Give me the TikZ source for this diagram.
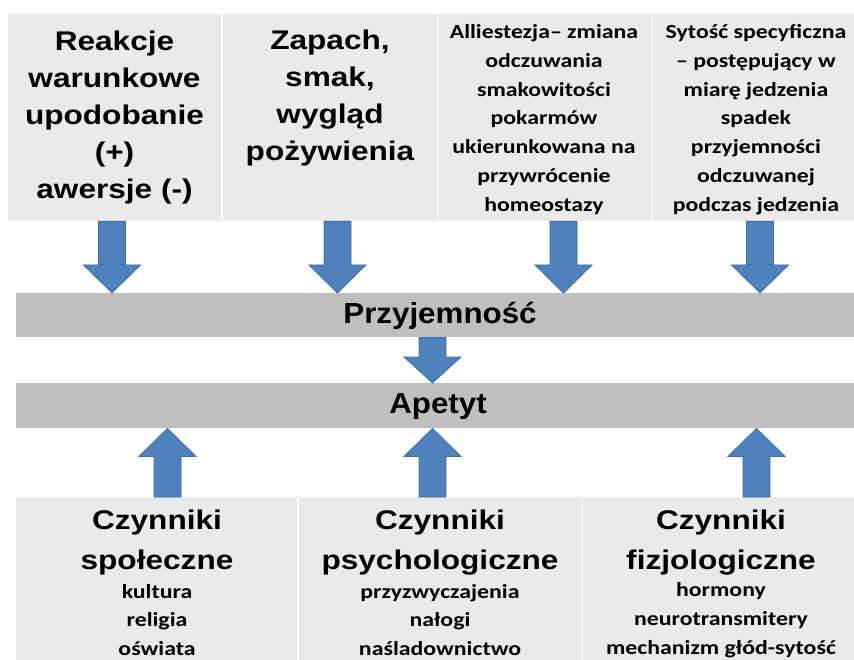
\documentclass[tikz,border=0pt]{standalone}
\usepackage{fontspec}
\setmainfont{Liberation Sans}
\newfontfamily\fA[FakeStretch=1.17]{Liberation Sans}
\newfontfamily\fB[FakeStretch=1.08]{Liberation Sans}
\newfontfamily\fC[FakeStretch=1.19]{Carlito}
\usetikzlibrary{calc}
\definecolor{boxgray}{HTML}{EAEAEA}
\definecolor{bargray}{HTML}{BFBFBF}
\definecolor{arrblue}{HTML}{4F81BD}
\definecolor{arredge}{HTML}{3F6EA8}
\newcommand{\blockarr}[3]{%
  \draw[barrow] let \p1=(#1), \p2=(#2) in
    (\x1-13.5pt,\y1) -- (\x1+13.5pt,\y1) -- (\x1+13.5pt,{\y2+(#3)}) --
    (\x1+28.5pt,{\y2+(#3)}) -- (\x1,\y2) -- (\x1-28.5pt,{\y2+(#3)}) --
    (\x1-13.5pt,{\y2+(#3)}) -- cycle;}
\begin{document}
\begin{tikzpicture}[x=1pt,y=-1pt,
  panel/.style={fill=boxgray, draw=none, inner sep=0pt, anchor=north west},
  bar/.style={fill=bargray, draw=none, inner sep=0pt, anchor=north west},
  arialtxt/.style={align=center, inner sep=0pt, font=\fA\bfseries\fontsize{27}{37}\selectfont},
  headtxt/.style={align=center, inner sep=0pt, font=\fA\bfseries\fontsize{27}{40}\selectfont},
  bartxt/.style={inner sep=0pt, font=\fB\bfseries\fontsize{29}{34}\selectfont},
  caltxt/.style={align=center, inner sep=0pt, font=\fC\bfseries\fontsize{20}{28.8}\selectfont},
  barrow/.style={fill=arrblue, draw=arredge, line width=0.8pt, line join=miter}]
\useasboundingbox (0,0) rectangle (854,660);
\fill[white] (0,0) rectangle (854,660);

% top panels
\node[panel, minimum width=213pt, minimum height=207pt] (t1) at (8,14) {};
\node[panel, minimum width=214pt, minimum height=207pt] (t2) at (223,14) {};
\node[panel, minimum width=214pt, minimum height=207pt] (t3) at (438,14) {};
\node[panel, minimum width=201pt, minimum height=207pt] (t4) at (653,14) {};

\node[arialtxt] (t1x) at (114.5,118) {Reakcje\\warunkowe\\upodobanie\\(+)\\awersje (-)};
\node[arialtxt] (t2x) at (330,98.5) {Zapach,\\smak,\\wygląd\\pożywienia};
\node[caltxt] (t3x) at (544,119.5) {Alliestezja– zmiana\\odczuwania\\smakowitości\\pokarmów\\ukierunkowana na\\przywrócenie\\homeostazy};
\node[caltxt] (t4x) at (756,119.5) {Sytość specyficzna\\– postępujący w\\miarę jedzenia\\spadek\\przyjemności\\odczuwanej\\podczas jedzenia};

% bars
\node[bar, minimum width=838pt, minimum height=44pt] (b1) at (16,293) {};
\node[bar, minimum width=838pt, minimum height=45pt] (b2) at (16,383) {};
\node[bartxt] (b1x) at (440,316) {Przyjemność};
\node[bartxt] (b2x) at (438,407) {Apetyt};

% bottom panels
\node[panel, minimum width=281pt, minimum height=163pt] (u1) at (16,497) {};
\node[panel, minimum width=283pt, minimum height=163pt] (u2) at (299,497) {};
\node[panel, minimum width=271pt, minimum height=163pt] (u3) at (583,497) {};

\node[headtxt] (u1h) at (157,543) {Czynniki\\społeczne};
\node[headtxt] (u2h) at (440,543) {Czynniki\\psychologiczne};
\node[headtxt] (u3h) at (721,543) {Czynniki\\fizjologiczne};
\node[caltxt] (u1i) at (157,620) {kultura\\religia\\oświata};
\node[caltxt] (u2i) at (440,620) {przyzwyczajenia\\nałogi\\naśladownictwo};
\node[caltxt] (u3i) at (721,620) {hormony\\neurotransmitery\\mechanizm głód-sytość};

% arrow axes
\coordinate (x1) at (112,0);
\coordinate (x2) at (337.5,0);
\coordinate (x3) at (563.5,0);
\coordinate (x4) at (760,0);
\coordinate (xm) at (432.5,0);
\coordinate (y1) at (167.5,0);
\coordinate (y2) at (432.5,0);
\coordinate (y3) at (756.5,0);

% down arrows into Przyjemność
\blockarr{t1.south -| x1}{b1.north -| x1}{28pt}
\blockarr{t2.south -| x2}{b1.north -| x2}{28pt}
\blockarr{t3.south -| x3}{b1.north -| x3}{28pt}
\blockarr{t4.south -| x4}{b1.north -| x4}{28pt}
% Przyjemność -> Apetyt
\blockarr{b1.south -| xm}{b2.north -| xm}{26pt}
% up arrows into Apetyt
\blockarr{u1.north -| y1}{b2.south -| y1}{-28pt}
\blockarr{u2.north -| y2}{b2.south -| y2}{-28pt}
\blockarr{u3.north -| y3}{b2.south -| y3}{-28pt}
\end{tikzpicture}
\end{document}
